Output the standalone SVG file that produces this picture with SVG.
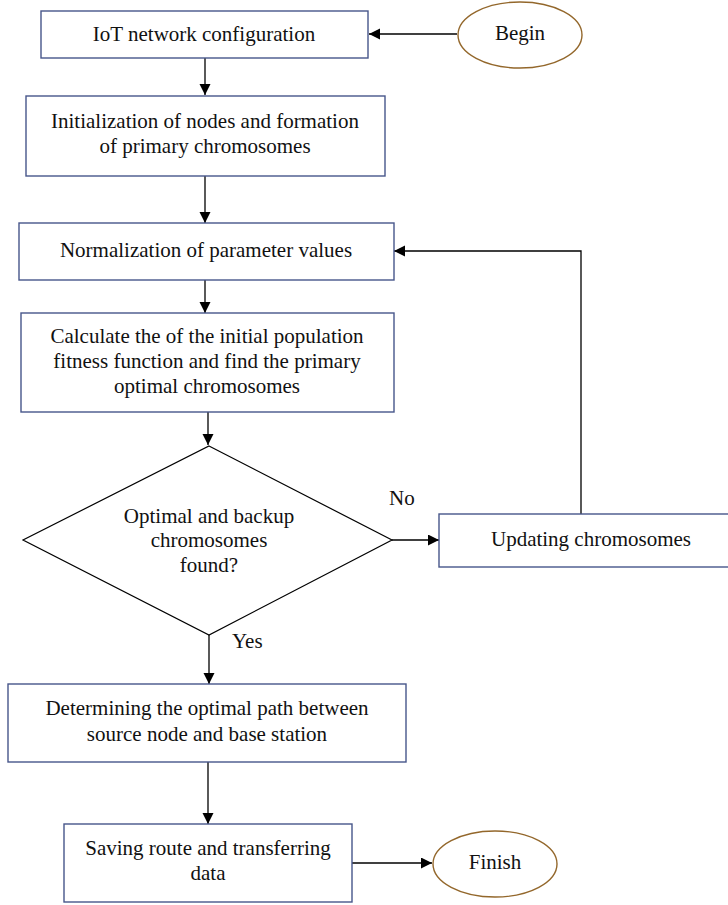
<svg xmlns="http://www.w3.org/2000/svg" width="728" height="905" viewBox="0 0 728 905">
<defs>
<marker id="arr" markerWidth="12" markerHeight="12" refX="11" refY="5.5" orient="auto" markerUnits="userSpaceOnUse">
<path d="M0,0 L11,5.5 L0,11 Z" fill="#000"/>
</marker>
<style>
.box{fill:#fff;stroke:#47568a;stroke-width:1.4}
.ell{fill:#fff;stroke:#93672b;stroke-width:1.4}
.dia{fill:#fff;stroke:#000;stroke-width:1.2}
.t{font-family:"Liberation Serif","Times New Roman",serif;font-size:21px;fill:#111;text-anchor:middle}
.l{font-family:"Liberation Serif","Times New Roman",serif;font-size:21px;fill:#111}
.c{fill:none;stroke:#000;stroke-width:1.3}
</style>
</defs>
<rect width="728" height="905" fill="#fff"/>
<g id="connectors">
<path class="c" d="M457,34 H369" marker-end="url(#arr)"/>
<path class="c" d="M205,58 V95" marker-end="url(#arr)"/>
<path class="c" d="M205,176 V223" marker-end="url(#arr)"/>
<path class="c" d="M205,280 V313" marker-end="url(#arr)"/>
<path class="c" d="M208,412 V445" marker-end="url(#arr)"/>
<path class="c" d="M392,540 H439" marker-end="url(#arr)"/>
<path class="c" d="M581,514 V251 H394" marker-end="url(#arr)"/>
<path class="c" d="M209,635 V684" marker-end="url(#arr)"/>
<path class="c" d="M208,762 V824" marker-end="url(#arr)"/>
<path class="c" d="M352,863 H432" marker-end="url(#arr)"/>
<text class="l" x="389" y="505">No</text>
<text class="l" x="232" y="648">Yes</text>
</g>
<g id="begin">
<ellipse class="ell" cx="520" cy="35" rx="62" ry="33"/>
<text class="t" x="520" y="40">Begin</text>
</g>
<g id="iot-config">
<rect class="box" x="41" y="11" width="327" height="47"/>
<text class="t" x="204" y="40.5">IoT network configuration</text>
</g>
<g id="init-nodes">
<rect class="box" x="26" y="96" width="359" height="80"/>
<text class="t" x="205" y="128">Initialization of nodes and formation</text>
<text class="t" x="205" y="153">of primary chromosomes</text>
</g>
<g id="normalization">
<rect class="box" x="19" y="223" width="375" height="57"/>
<text class="t" x="206" y="257">Normalization of parameter values</text>
</g>
<g id="calculate">
<rect class="box" x="21" y="313" width="373" height="99"/>
<text class="t" x="207" y="342.5">Calculate the of the initial population</text>
<text class="t" x="207" y="367.5">fitness function and find the primary</text>
<text class="t" x="207" y="392.5">optimal chromosomes</text>
</g>
<g id="decision">
<polygon class="dia" points="209,446 392,540 209,635 23,540"/>
<text class="t" x="209" y="523">Optimal and backup</text>
<text class="t" x="209" y="547">chromosomes</text>
<text class="t" x="209" y="572">found?</text>
</g>
<g id="updating">
<rect class="box" x="439" y="514" width="300" height="53"/>
<text class="t" x="591" y="546">Updating chromosomes</text>
</g>
<g id="determining">
<rect class="box" x="8" y="684" width="398" height="78"/>
<text class="t" x="207" y="715">Determining the optimal path between</text>
<text class="t" x="207" y="741">source node and base station</text>
</g>
<g id="saving">
<rect class="box" x="64" y="824" width="288" height="78"/>
<text class="t" x="208" y="855">Saving route and transferring</text>
<text class="t" x="208" y="880">data</text>
</g>
<g id="finish">
<ellipse class="ell" cx="495" cy="864" rx="62" ry="33"/>
<text class="t" x="495" y="869">Finish</text>
</g>
</svg>
